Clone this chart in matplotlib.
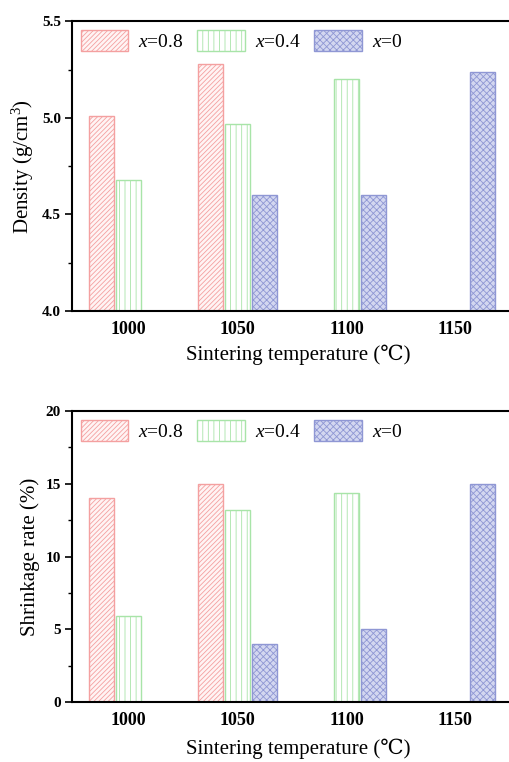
#!/usr/bin/env python3
# density and shrinkage vs sintering temperature
from matplotlib import pyplot as plt
from matplotlib.ticker import MultipleLocator
import numpy as np

temps = [1000, 1050, 1100, 1150]
labels = ['$x$=0.8', '$x$=0.4', '$x$=0']

density_08 = [5.01, 5.28, np.nan, np.nan]
density_04 = [4.68, 4.97, 5.20, np.nan]
density_0 = [np.nan, 4.60, 4.60, 5.24]

shrink_08 = [14.0, 15.0, np.nan, np.nan]
shrink_04 = [5.9, 13.2, 14.4, np.nan]
shrink_0 = [np.nan, 4.0, 5.0, 15.0]

plt.rcParams['font.family'] = ['Liberation Serif', 'DejaVu Serif']
plt.rcParams['mathtext.fontset'] = 'custom'
plt.rcParams['mathtext.rm'] = 'Liberation Serif'
plt.rcParams['mathtext.it'] = 'Liberation Serif:italic'
plt.rcParams['hatch.linewidth'] = 0.6

styles = [
	dict(facecolor='#fff4f4', edgecolor='#f4a0a0', hatch='///////'),
	dict(facecolor='white', edgecolor='#a8e4a8', hatch='|||'),
	dict(facecolor='#d3d7f0', edgecolor='#8f97d4', hatch='xxxxx'),
]
offsets = [-12.5, 0, 12.5]
width = 11.5

fig = plt.figure(figsize=(5.09, 7.62), dpi=100)
ax1 = fig.add_axes([0.1415, 0.592, 0.89, 0.380])
ax2 = fig.add_axes([0.1415, 0.0787, 0.89, 0.3819])


def draw(ax, data, ylim, major, minor, ylabel, xlabelpad):
	x = np.array(temps, dtype=float)
	for vals, off, st, lab in zip(data, offsets, styles, labels):
		vals = np.array(vals)
		m = ~np.isnan(vals)
		ax.bar(x[m] + off, vals[m] - ylim[0], width, bottom=ylim[0],
			linewidth=1.0, label=lab, **st)
	ax.set_xlim(974, 1182)
	ax.set_ylim(*ylim)
	ax.set_xticks(temps)
	ax.yaxis.set_major_locator(MultipleLocator(major))
	ax.yaxis.set_minor_locator(MultipleLocator(minor))
	ax.tick_params(axis='x', length=0, pad=7, labelsize=13)
	ax.tick_params(axis='y', which='major', direction='out', length=5, width=1.2, labelsize=11, pad=3)
	ax.tick_params(axis='y', which='minor', direction='out', length=3, width=1.0)
	for s in ax.spines.values():
		s.set_linewidth(1.5)
	ax.set_xlabel('Sintering temperature (\u2103)', fontsize=15, labelpad=xlabelpad)
	ax.set_ylabel(ylabel, fontsize=15, labelpad=4)
	ax.legend(loc='upper left', ncol=3, frameon=False, fontsize=14,
		handlelength=2.45, handleheight=1.3, columnspacing=0.7, handletextpad=0.5,
		borderaxespad=0.0, borderpad=0.45, bbox_to_anchor=(0.0, 1.0))


draw(ax1, [density_08, density_04, density_0], (4.0, 5.5), 0.5, 0.25,
	'Density (g/cm$^3$)', 5)
ax1.yaxis.set_major_formatter(plt.FormatStrFormatter('%.1f'))
draw(ax2, [shrink_08, shrink_04, shrink_0], (0, 20), 5, 2.5,
	'Shrinkage rate (%)', 7)

for ax in (ax1, ax2):
	for t in ax.get_xticklabels() + ax.get_yticklabels():
		t.set_fontweight('bold')

plt.savefig('out.png', dpi=100)
